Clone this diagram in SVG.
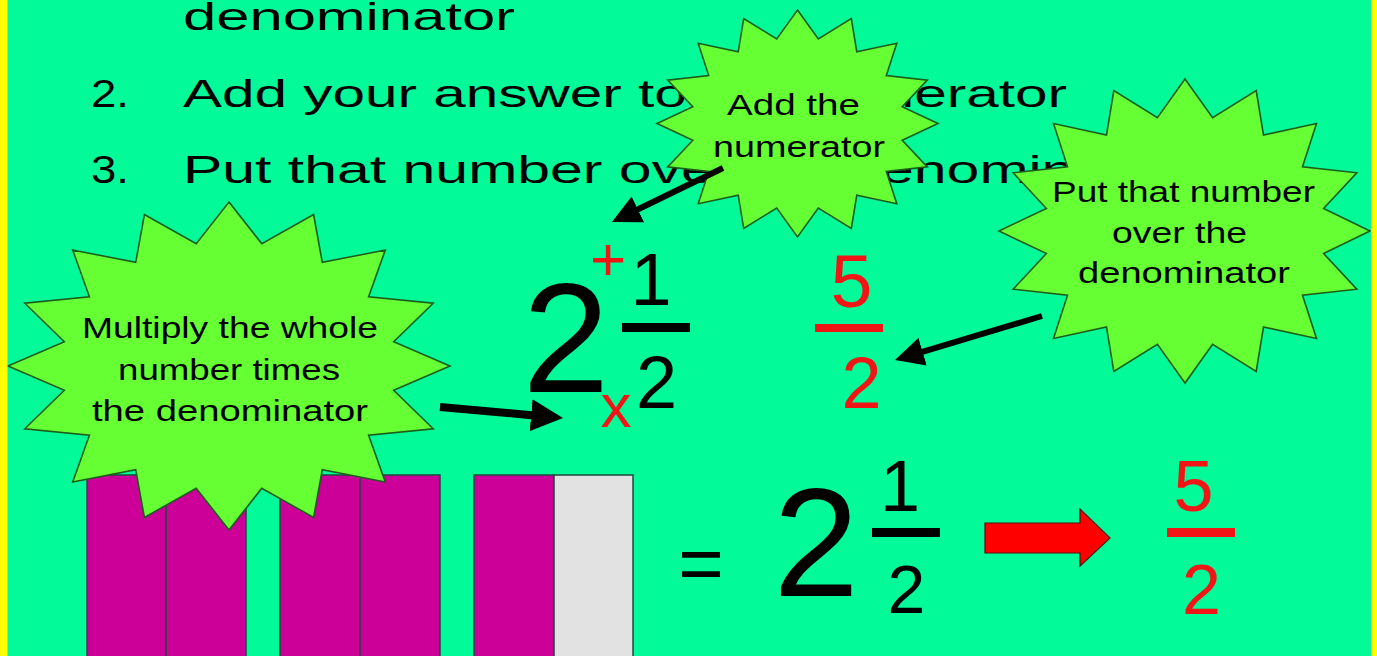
<svg xmlns="http://www.w3.org/2000/svg" width="1377" height="656" viewBox="0 0 1377 656">
<style>
  .t{font-family:"Liberation Sans",Arial,sans-serif;fill:#000;}
  .list{font-size:39px;}
  .star{fill:#66FF33;stroke:#1B5E1B;stroke-width:1.6;stroke-linejoin:miter;}
  .lbl{font-size:30px;}
  .num{text-anchor:middle;}
  .red{fill:#F21515;}
  .bar{stroke:#1E4A3E;stroke-width:1.5;}
  .conn{stroke:#000;fill:none;}
</style>
<defs>
  <marker id="ah" viewBox="0 0 4 4" refX="1" refY="2" markerWidth="4" markerHeight="4" orient="auto"><path d="M0,0 L4,2 L0,4 z" fill="#000"/></marker>
  <marker id="ahs" viewBox="0 0 4 4" refX="1" refY="2" markerWidth="4.8" markerHeight="4.8" orient="auto"><path d="M0,0 L4,2 L0,4 z" fill="#000"/></marker>
</defs>
<rect x="0" y="0" width="1377" height="656" fill="#02FA98"/>

<g id="list">
  <text class="t list" x="183" y="30" textLength="332" lengthAdjust="spacingAndGlyphs">denominator</text>
  <text class="t list" x="91" y="107" textLength="38" lengthAdjust="spacingAndGlyphs">2.</text>
  <text class="t list" x="183" y="107" textLength="884" lengthAdjust="spacingAndGlyphs">Add your answer to the numerator</text>
  <text class="t list" x="91" y="183" textLength="38" lengthAdjust="spacingAndGlyphs">3.</text>
  <text class="t list" x="183" y="183" textLength="993" lengthAdjust="spacingAndGlyphs">Put that number over the denominator</text>
</g>

<g id="bars">
  <rect class="bar" x="87" y="475" width="79" height="190" fill="#CC0099"/>
  <rect class="bar" x="166" y="475" width="80" height="190" fill="#CC0099"/>
  <rect class="bar" x="280" y="475" width="80" height="190" fill="#CC0099"/>
  <rect class="bar" x="360" y="475" width="80" height="190" fill="#CC0099"/>
  <rect class="bar" x="474" y="475" width="80" height="190" fill="#CC0099"/>
  <rect class="bar" x="554" y="475" width="79" height="190" fill="#E2E2E2"/>
</g>

<g id="star-multiply">
  <polygon class="star" points="229,202 261.8,243.8 313.6,214.5 322.3,262.4 385.3,250 368.6,296.7 433.2,303.2 393.7,341.7 450,366 393.7,390.3 433.2,428.8 368.6,435.3 385.3,482 322.3,469.6 313.6,517.5 261.8,488.2 229,530 196.2,488.2 144.4,517.5 135.7,469.6 72.7,482 89.4,435.3 24.8,428.8 64.3,390.3 8,366 64.3,341.7 24.8,303.2 89.4,296.7 72.7,250 135.7,262.4 144.4,214.5 196.2,243.8"/>
  <text class="t lbl" x="82" y="338" textLength="296" lengthAdjust="spacingAndGlyphs">Multiply the whole</text>
  <text class="t lbl" x="118" y="380" textLength="222" lengthAdjust="spacingAndGlyphs">number times</text>
  <text class="t lbl" x="92" y="421" textLength="276" lengthAdjust="spacingAndGlyphs">the denominator</text>
</g>

<g id="star-add">
  <polygon class="star" points="797.5,10 818.3,38.9 851.3,18.6 856.8,51.8 896.8,43.2 886.3,75.6 927.3,80.1 902.2,106.7 938,123.5 902.2,140.3 927.3,166.9 886.3,171.4 896.8,203.8 856.8,195.2 851.3,228.4 818.3,208.1 797.5,237 776.7,208.1 743.7,228.4 738.2,195.2 698.2,203.8 708.7,171.4 667.7,166.9 692.8,140.3 657,123.5 692.8,106.7 667.7,80.1 708.7,75.6 698.2,43.2 738.2,51.8 743.7,18.6 776.7,38.9"/>
  <text class="t lbl" x="727" y="115" textLength="133" lengthAdjust="spacingAndGlyphs">Add the</text>
  <text class="t lbl" x="713" y="157" textLength="172" lengthAdjust="spacingAndGlyphs">numerator</text>
</g>

<g id="star-put">
  <polygon class="star" points="1185,79 1212.6,117.7 1256.2,90.6 1263.5,135 1316.5,123.5 1302.5,166.8 1356.8,172.8 1323.6,208.5 1370,231 1323.6,253.5 1356.8,289.2 1302.5,295.2 1316.5,338.5 1263.5,327 1256.2,371.4 1212.6,344.3 1185,383 1157.4,344.3 1113.8,371.4 1106.5,327 1053.5,338.5 1067.5,295.2 1013.2,289.2 1046.4,253.5 999,231 1046.4,208.5 1013.2,172.8 1067.5,166.8 1053.5,123.5 1106.5,135 1113.8,90.6 1157.4,117.7"/>
  <text class="t lbl" x="1052" y="202" textLength="263" lengthAdjust="spacingAndGlyphs">Put that number</text>
  <text class="t lbl" x="1112" y="243" textLength="135" lengthAdjust="spacingAndGlyphs">over the</text>
  <text class="t lbl" x="1078" y="283" textLength="212" lengthAdjust="spacingAndGlyphs">denominator</text>
</g>

<g id="connectors">
  <line class="conn" x1="723" y1="168" x2="631.4" y2="212.5" stroke-width="6" marker-end="url(#ahs)"/>
  <line class="conn" x1="440" y1="407" x2="539.1" y2="415.9" stroke-width="8" marker-end="url(#ah)"/>
  <line class="conn" x1="1042" y1="316" x2="915.7" y2="353.8" stroke-width="6" marker-end="url(#ahs)"/>
</g>

<g id="mixed-top">
  <text class="t num red" x="608" y="280" font-size="62">+</text>
  <text class="t num" x="566" y="392" font-size="156">2</text>
  <text class="t num" x="651" y="305" font-size="74">1</text>
  <rect x="622" y="323" width="68" height="9" fill="#000"/>
  <text class="t num" x="656.5" y="408" font-size="74">2</text>
  <text class="t num red" x="616" y="427" font-size="62">x</text>
</g>

<g id="improper-top">
  <text class="t num red" x="851.5" y="307" font-size="75">5</text>
  <rect x="815" y="324" width="68" height="8" fill="#F21515"/>
  <text class="t num red" x="861.5" y="408" font-size="72">2</text>
</g>

<g id="mixed-bottom">
  <text class="t num" x="701" y="590" font-size="78">=</text>
  <text class="t num" x="816" y="596" font-size="154">2</text>
  <text class="t num" x="900" y="511" font-size="72">1</text>
  <rect x="872" y="528" width="68" height="9" fill="#000"/>
  <text class="t num" x="906.5" y="613" font-size="68">2</text>
</g>

<g id="block-arrow">
  <polygon points="985,523 1080,523 1080,509 1110,538 1080,566 1080,553 985,553" fill="#FF0000" stroke="#5A1010" stroke-width="1.2"/>
</g>

<g id="improper-bottom">
  <text class="t num red" x="1193.5" y="511" font-size="72">5</text>
  <rect x="1167" y="528" width="68" height="9" fill="#F21515"/>
  <text class="t num red" x="1201.5" y="614" font-size="70">2</text>
</g>

<g id="frame">
  <rect x="0" y="0" width="7.5" height="656" fill="#FFFF00"/>
  <rect x="1371" y="0" width="6" height="656" fill="#FFFF00"/>
</g>
</svg>
